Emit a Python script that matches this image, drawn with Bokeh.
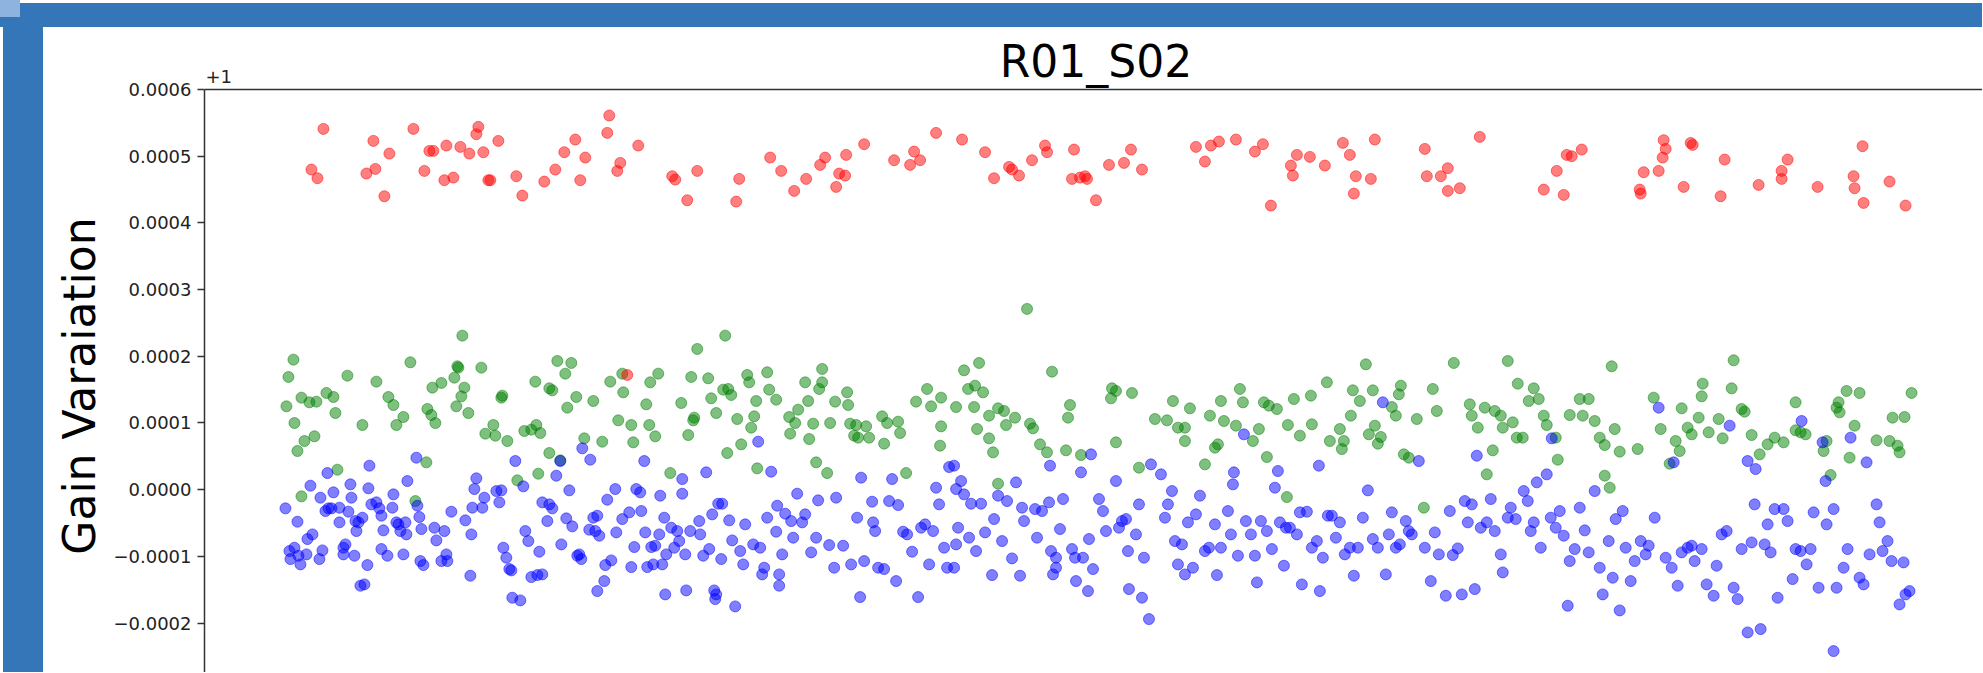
import math
from bokeh.plotting import figure
from bokeh.models import Range1d, FixedTicker, CustomJSTickFormatter, Label, Span, Div
from bokeh.layouts import column, row
from bokeh.embed import file_html
from bokeh.resources import INLINE

# ---------------- data (y in units of 1e-4, offset +1) ----------------
title_text = "R01_S02"
y_label_text = "Gain Varaiation"
offset_text = "+1"
y_ticks = [-2, -1, 0, 1, 2, 3, 4, 5, 6]

red = [
    (107,4.80),(113,4.67),(119,5.41),(162,4.74),(169,5.23),(171,4.81),(180,4.40),(185,5.04),(209,5.41),(220,4.78),
    (225,5.08),(229,5.08),(240,4.64),(242,5.16),(249,4.68),(256,5.14),(265,5.04),(272,5.33),(274,5.44),(279,5.06),
    (284,4.64),(286,4.64),(294,5.23),(312,4.70),(318,4.41),(340,4.62),(351,4.80),(360,5.06),(371,5.25),(376,4.64),
    (381,4.98),(403,5.35),(405,5.61),(413,4.78),(416,4.90),(434,5.16),(468,4.70),(471,4.65),(483,4.34),(493,4.78),
    (532,4.32),(535,4.66),(566,4.98),(577,4.78),(590,4.48),(602,4.66),(616,4.87),(621,4.98),(632,4.54),(635,4.74),
    (641,4.71),(642,5.02),(660,5.18),(690,4.94),(706,4.87),(710,5.07),(716,4.94),(732,5.35),(423,1.72),
    (758,5.25),(781,5.06),(790,4.67),(805,4.84),(808,4.80),(815,4.71),(828,4.94),(841,5.16),(843,5.06),(868,4.66),
    (870,5.10),(876,4.68),(881,4.70),(883,4.66),(892,4.34),(905,4.87),(920,4.90),(927,5.10),(938,4.80),(992,5.14),
    (1001,4.92),(1007,5.16),(1015,5.22),(1032,5.25),(1051,5.07),(1059,5.18),(1067,4.26),(1087,4.86),(1089,4.71),(1093,5.02),
    (1106,4.99),(1121,4.86),(1139,5.20),(1146,5.02),(1150,4.44),(1152,4.70),(1167,4.66),(1171,5.25),(1221,5.11),(1223,4.70),
    (1237,4.70),(1244,4.82),(1244,4.48),(1256,4.52),(1276,5.29),(1340,4.50),(1353,4.78),(1360,4.42),(1363,5.02),(1368,5.00),
    (1378,5.10),(1436,4.50),(1437,4.44),(1440,4.76),(1455,4.78),(1459,4.98),(1460,5.24),(1462,5.11),(1480,4.54),(1487,5.20),
    (1489,5.17),(1517,4.40),(1521,4.95),(1555,4.57),(1578,4.78),(1578,4.66),(1584,4.95),(1614,4.54),(1650,4.70),(1651,4.52),
    (1659,5.15),(1660,4.30),(1686,4.62),(1702,4.26),
]

green = [
    (89,1.95),(84,1.69),(82,1.25),(90,1.00),(93,0.58),(100,0.73),(110,0.80),(97,1.38),(105,1.31),(112,1.32),
    (122,1.45),(129,1.39),(131,1.15),(143,1.71),(158,0.97),(172,1.62),(184,1.39),(189,1.27),(192,0.97),(199,1.09),
    (206,1.91),(223,1.21),(227,1.12),(231,1.00),(228,1.53),(237,1.60),(250,1.68),(253,1.85),(254,1.83),(258,2.31),
    (260,1.53),(257,1.40),(252,1.25),(264,1.15),(277,1.83),(281,0.84),(289,0.97),(291,0.81),(297,1.38),(298,1.41),
    (303,0.73),(313,0.14),(320,0.88),(327,0.90),(331,1.62),(332,0.97),(336,0.85),(334,0.24),(345,1.52),(348,1.49),
    (345,0.55),(353,1.93),(356,0.44),(361,1.74),(367,1.90),(363,1.23),(372,1.39),(380,0.77),(389,1.33),(398,0.72),
    (406,1.62),(414,1.04),(418,1.74),(419,1.46),(427,0.97),(429,0.71),(442,1.28),(446,1.61),(445,0.97),(451,0.80),
    (454,1.74),(466,0.25),(477,1.30),(484,0.82),(487,1.69),(490,1.08),(489,1.04),(493,2.11),(504,1.67),(507,1.37),
    (512,1.15),(519,1.50),(521,2.31),(524,1.51),(527,1.42),(523,0.55),(533,1.06),(537,0.68),(543,1.72),(545,1.61),
    (547,0.93),(550,1.10),(552,1.33),(553,0.32),(563,1.76),(565,1.50),(572,1.35),(585,1.09),(586,0.84),(591,1.00),
    (594,1.20),(601,1.61),(604,1.33),(605,0.76),(609,0.99),(612,0.41),(615,1.51),(618,1.61),(618,1.81),(623,0.25),
    (626,1.00),(631,1.32),(643,1.46),(644,1.27),(646,0.99),(650,0.81),(652,0.97),(654,0.78),(662,0.95),(665,0.78),
    (678,1.10),(680,0.69),(683,1.00),(694,1.02),(696,0.85),(702,0.25),(712,1.32),(723,1.51),(727,1.25),(737,1.38),
    (737,0.95),(736,0.66),(97,-0.10),(211,-0.17),(222,0.41),(133,0.30),
    (823,2.71),(760,1.79),(775,1.90),(848,1.77),(764,1.51),(771,1.56),(779,1.46),(752,1.24),(770,1.24),(785,1.11),
    (794,1.22),(800,1.18),(811,1.08),(802,0.97),(826,0.99),(829,0.92),(773,0.91),(785,0.77),(789,0.56),(836,0.68),
    (843,0.56),(862,0.59),(866,1.27),(864,1.08),(877,0.52),(908,1.52),(912,1.48),(907,1.37),(928,1.45),(912,0.71),
    (935,0.33),(951,1.06),(963,1.04),(969,1.33),(974,0.93),(981,0.93),(981,0.73),(986,1.22),(1001,0.38),(1006,1.11),
    (1011,0.63),(1014,0.68),(1017,1.33),(1020,1.03),(1032,0.96),(1036,1.51),(1039,1.31),(1049,0.73),(1055,0.91),(1060,1.31),
    (1065,1.26),(1063,0.49),(1073,1.21),(1084,0.97),(1090,1.36),(1096,0.81),(1108,0.98),(1107,1.41),(1123,1.61),(1126,0.73),
    (1136,0.91),(1140,0.73),(1138,0.61),(1147,1.11),(1149,1.49),(1156,1.33),(1162,1.88),(1165,0.83),(1169,1.49),(1171,0.96),
    (1174,0.69),(1177,0.79),(1188,1.24),(1192,1.11),(1195,1.43),(1197,1.56),(1200,0.53),(1205,0.48),(1213,1.06),(1220,-0.27),
    (1229,1.51),(1233,1.18),(1250,1.90),(1266,1.28),(1268,1.11),(1274,0.93),(1281,1.23),(1283,0.23),(1289,0.59),(1291,1.18),
    (1297,1.11),(1299,0.93),(1304,1.93),(1309,1.01),(1313,0.78),(1314,1.59),(1319,0.78),(1325,1.33),(1330,1.52),(1335,1.36),
    (1340,1.11),(1343,0.97),(1352,0.78),(1354,0.45),(1366,1.12),(1376,1.36),(1379,1.11),(1385,1.36),(1391,1.03),(1396,0.78),
    (1401,0.21),(1401,0.67),(1408,1.85),(1406,0.03),(1411,0.91),(1416,0.57),(1434,0.61),(1450,1.38),(1457,0.91),(1466,0.39),
    (1472,0.73),(1476,0.58),(1478,1.22),(1484,0.93),(1488,0.83),(1495,1.08),(1499,1.59),(1498,1.40),(1505,0.86),(1515,1.06),
    (1519,0.77),(1528,1.52),(1530,1.94),(1538,1.21),(1541,1.17),(1548,0.82),(1556,0.53),(1564,0.68),(1571,0.78),(1580,0.71),
    (1592,1.31),(1592,0.89),(1597,0.86),(1602,0.83),(1620,0.58),(1623,0.73),(1627,0.22),(1633,1.23),(1636,1.16),(1635,1.31),
    (1643,1.48),(1646,0.48),(1651,0.96),(1656,1.45),(1673,0.74),(1686,0.73),(1689,1.08),(1694,0.66),(1696,0.56),(1701,1.09),
    (1708,1.45),(794,0.09),(1083,-0.11),
]

blue = [
    (81,-0.28),(93,-0.48),(85,-0.92),(86,-1.04),(90,-0.87),(96,-1.12),(94,-0.99),(102,-0.97),(103,-0.74),(108,-0.67),
    (115,-1.04),(118,-0.91),(106,0.06),(116,-0.12),(123,0.25),(121,-0.32),(124,-0.28),(127,-0.28),(129,-0.04),(135,-0.27),
    (135,-0.49),(139,-0.87),(139,-0.97),(141,-0.82),(146,0.08),(147,-0.12),(144,-0.33),(151,-0.47),(154,-0.49),(152,-0.62),
    (158,-0.42),(150,-0.99),(156,-1.44),(160,-1.42),(163,-1.13),(164,0.02),(165,0.36),(167,-0.22),(172,-0.19),(175,-0.28),
    (177,-0.39),(179,-0.61),(177,-0.89),(183,-0.99),(189,-0.07),(188,-0.27),(192,-0.49),(194,-0.52),(196,-0.62),(199,-0.97),
    (202,-0.67),(203,0.13),(201,-0.49),(212,0.48),(213,-0.24),(215,-0.41),(217,-0.59),(216,-1.07),(219,-1.13),(230,-0.57),
    (232,-0.76),(237,-1.07),(240,-0.62),(242,-0.97),(243,-1.07),(247,-0.33),(261,-0.46),(266,-1.29),(267,-0.67),(268,-0.27),
    (272,0.17),(270,0.01),(278,-0.27),(280,-0.12),(292,-0.02),(295,-0.19),(297,-0.01),(299,-0.87),(302,-1.02),(305,-1.19),
    (307,-1.21),(308,-1.62),(316,-1.66),(311,0.43),(319,0.05),(321,-0.62),(324,-0.77),(327,-1.31),(333,-1.28),(338,-1.27),
    (335,-0.93),(338,-0.19),(343,-0.47),(345,-0.22),(348,-0.28),(352,0.21),(356,0.43),(357,-0.82),(362,-0.43),(365,-0.01),
    (368,-0.55),(373,-0.99),(375,-0.97),(377,-1.04),(378,0.62),(386,0.45),(385,-0.60),(389,-0.42),(391,-0.62),(393,-0.39),
    (395,-0.69),(401,-1.13),(403,-0.15),(400,-1.37),(393,-1.52),(407,-1.06),(411,0.01),(412,-0.64),(418,-0.44),(425,-0.34),
    (427,-1.16),(430,-0.86),(432,0.01),(436,-0.04),(437,-0.32),(440,0.43),(441,-0.64),(443,-1.16),(447,-0.86),(449,-1.12),
    (451,-0.84),(455,-0.67),(456,-0.09),(458,-1.12),(460,-0.42),(461,-1.57),(462,-0.97),(467,-0.57),(470,-0.87),(473,-0.62),
    (475,-0.77),(478,-0.06),(478,0.16),(481,-0.97),(482,-1.51),(486,-0.62),(495,-0.47),(496,-0.67),(499,-0.99),(502,0.26),
    (505,-0.89),(508,-0.37),(510,-1.51),(512,-1.57),(514,-0.21),(518,-0.21),(511,-1.64),(517,-1.04),(525,-0.46),(528,-0.76),
    (531,-1.75),(536,-0.92),(539,-1.12),(541,-0.52),(549,-0.82),(554,0.72),(556,-0.87),(558,-1.27),(560,-1.17),(563,-0.42),
    (567,0.27),(573,-0.24),(572,-0.63),(575,-1.27),(575,-1.44),(578,-0.97),(581,-0.36),(587,-0.47),(589,-0.72),(593,-0.06),
    (598,-0.49),(601,-0.37),(607,-0.94),(612,-0.72),(614,-0.16),(625,-0.83),(630,-1.17),(632,-0.12),(639,-0.84),(647,-1.12),
    (653,-0.42),(656,-1.61),(657,0.18),(660,-1.07),(668,-0.18),(669,-0.49),(671,-0.62),(674,-1.17),(680,-1.19),(685,-0.17),
    (688,0.16),(692,-1.37),(694,-0.23),(699,-0.63),(703,-0.67),(708,-0.93),(714,-1.61),(717,-0.57),(721,-0.52),(725,-1.12),
    (729,-0.62),(732,0.03),(735,-0.22),(740,-0.87),(743,-1.17),(745,0.34),
    (750,0.36),(757,0.13),(752,0.01),(760,-0.07),(767,-0.21),(777,-0.21),(754,-0.57),(752,-0.82),(750,-1.17),(765,-0.72),
    (772,-0.92),(781,-0.64),(790,-0.44),(788,-1.28),(798,-0.77),(794,-0.09),(803,-0.17),(808,-1.03),(812,0.11),(816,-1.29),
    (818,-0.27),(820,-0.47),(831,-0.29),(833,-0.72),(838,-0.32),(845,-0.19),(846,0.36),(847,-0.92),(852,-1.02),(856,-0.59),
    (852,-1.17),(849,-1.27),(859,-0.14),(868,-0.89),(871,-1.02),(872,-1.37),(877,0.26),(879,-1.02),(884,-1.52),(885,-0.74),
    (887,0.53),(889,-1.19),(895,-0.14),(899,-0.32),(902,-0.62),(912,0.13),(915,-0.57),(918,-0.47),(922,-0.44),(924,-0.92),
    (925,-1.49),(932,-0.67),(935,-0.22),(938,-1.62),(940,-1.02),(945,-1.94),(947,0.38),(957,0.23),(961,-0.42),(964,-0.22),
    (968,-0.02),(971,-0.77),(974,-1.12),(978,-0.82),(981,-1.27),(984,-0.49),(989,-1.17),(992,-0.37),(996,-0.09),(1001,-0.92),
    (1005,-0.87),(1011,-0.52),(1013,-1.28),(1017,-0.87),(1024,-0.32),(1027,-0.67),(1030,0.26),(1029,0.08),(1034,-0.99),(1040,0.83),
    (1042,-0.47),(1047,-0.67),(1051,-0.99),(1053,-1.39),(1057,-0.47),(1063,-0.62),(1068,-0.89),(1071,0.03),(1074,0.28),(1076,-0.49),
    (1080,-1.14),(1082,-0.57),(1086,-0.57),(1093,-0.67),(1096,-0.34),(1098,-1.42),(1103,-0.33),(1108,-0.87),(1113,-0.77),(1115,0.36),
    (1116,-1.52),(1119,-1.02),(1124,-0.39),(1128,-0.39),(1132,-0.72),(1136,-0.49),(1141,-0.97),(1146,-0.87),(1150,-1.29),(1154,-0.87),
    (1159,-0.42),(1164,-0.01),(1169,-0.74),(1174,-0.87),(1179,1.31),(1182,-1.27),(1185,-0.67),(1188,-0.34),(1192,-0.87),(1196,-0.82),
    (1202,-0.47),(1205,-0.62),(1208,-0.67),(1215,0.43),(1221,-0.87),(1227,-1.37),(1231,-0.64),(1235,-0.97),(1242,-1.59),(1246,-0.32),
    (1249,-0.98),(1254,-0.88),(1258,-1.57),(1261,-0.17),(1264,-0.49),(1268,-0.22),(1271,-1.49),(1273,0.51),(1277,-0.57),(1283,-0.49),
    (1287,-0.14),(1291,-0.62),(1297,-0.97),(1299,-1.24),(1304,-0.42),(1307,-0.27),(1312,-0.44),(1320,-0.02),(1324,-0.17),(1327,-0.62),
    (1330,-0.49),(1333,0.11),(1337,-0.87),(1343,0.23),(1347,-0.42),(1348,0.77),(1352,-0.57),(1356,-0.32),(1360,-0.69),(1364,-1.74),
    (1366,-1.07),(1371,-0.89),(1376,-0.27),(1381,-0.61),(1385,-0.94),(1391,-0.02),(1396,-1.17),(1399,-1.57),(1405,-0.77),(1409,-1.32),
    (1412,-0.44),(1416,-1.81),(1419,-0.32),(1422,-0.87),(1427,-1.37),(1431,-1.07),(1437,-0.77),(1442,-0.97),(1445,-0.84),(1451,-0.42),
    (1455,1.23),(1462,-1.02),(1468,-1.17),(1470,0.41),(1474,-1.44),(1478,-0.94),(1484,-0.87),(1488,-0.84),(1491,-1.07),(1498,-0.89),
    (1503,-1.42),(1510,-1.59),(1513,-1.14),(1518,-0.67),(1523,-0.62),(1526,0.96),(1530,-1.47),(1534,-1.64),(1538,-0.89),(1544,0.43),
    (1544,-2.14),(1548,-0.79),(1551,-0.22),(1552,0.31),(1557,-2.09),(1561,-0.82),(1564,-0.52),(1567,-0.94),(1571,-0.29),(1574,-1.62),
    (1580,-0.29),(1584,-0.47),(1589,-1.34),(1592,-0.89),(1597,-0.92),(1598,1.03),(1603,-1.12),(1607,-0.89),(1610,-0.34),(1615,-1.47),
    (1619,0.71),(1622,0.13),(1623,-0.52),(1630,-0.29),(1630,-2.42),(1633,-1.47),(1640,-1.17),(1644,-0.89),(1647,0.78),(1656,-1.32),
    (1660,-1.42),(1663,0.41),(1666,-0.97),(1673,-0.22),(1676,-0.49),(1679,-0.92),(1684,-0.77),(1688,-1.07),(1696,-1.72),(1700,-1.09),
    (1702,-1.57),(1706,-1.52),
]

# ---------------- styling / layout ----------------
FONT = "DejaVu Sans"
BAR = "#3576B9"
BAR_LIGHT = "#8DB3DE"
Y_TOP = 6.93      # view extends above the 0.0006 spine to hold title and offset text
Y_BOTTOM = -2.741 # axes continue below the visible window

p = figure(width=1872, height=645, output_backend="svg", toolbar_location=None,
           x_range=Range1d(0, 1779), y_range=Range1d(Y_BOTTOM, Y_TOP),
           x_axis_location=None,
           min_border_left=93, min_border_right=0, min_border_top=0, min_border_bottom=0)
p.outline_line_color = None
p.grid.visible = False
p.background_fill_color = "white"
p.border_fill_color = "white"
p.title.visible = False

ya = p.yaxis[0]
ya.bounds = (Y_BOTTOM, y_ticks[-1])
ya.ticker = FixedTicker(ticks=y_ticks)
ya.formatter = CustomJSTickFormatter(code="const v = tick/10000; return (v < 0 ? '\u2212' : '') + Math.abs(v).toFixed(4);")
ya.major_label_text_font = FONT
ya.major_label_text_font_size = "18px"
ya.major_label_text_color = "#222222"
ya.major_tick_out = 7
ya.major_tick_in = 0
ya.minor_tick_line_color = None
ya.axis_line_color = "#333333"
ya.axis_line_width = 1.5
ya.major_tick_line_color = "#333333"
ya.major_tick_line_width = 1.3
ya.major_label_standoff = 6

# top spine of the axes box
p.add_layout(Span(location=y_ticks[-1], dimension="width", line_color="#333333", line_width=1.5))

def pts(lst):
    return [a for a, b in lst], [b for a, b in lst]

gx, gy = pts(green)
bx, by = pts(blue)
rx, ry = pts(red)
p.scatter(gx, gy, size=11, marker="circle", fill_color="green", line_color="green", fill_alpha=0.5, line_alpha=0.5)
p.scatter(bx, by, size=11, marker="circle", fill_color="blue", line_color="blue", fill_alpha=0.5, line_alpha=0.5)
p.scatter(rx, ry, size=11, marker="circle", fill_color="red", line_color="red", fill_alpha=0.5, line_alpha=0.5)

p.add_layout(Label(x=892, y=6.42, text=title_text, text_align="center", text_baseline="middle",
                   text_font=FONT, text_font_size="44px", text_color="black"))
p.add_layout(Label(x=1, y=6.19, text=offset_text, text_align="left", text_baseline="middle",
                   text_font=FONT, text_font_size="18px", text_color="#222222"))

ylabel_html = (
    '<div style="position:relative; width:500px; height:50px; line-height:50px; text-align:center; '
    'white-space:nowrap; font-family:\'DejaVu Sans\'; font-size:44px; color:black; '
    'transform-origin:0 0; transform:translate(12px, 609px) rotate(-90deg);">' + y_label_text + '</div>'
)

corner = Div(text="", width=20, height=27, margin=0,
             styles={"background": f"linear-gradient({BAR_LIGHT} 0px, {BAR_LIGHT} 17px, {BAR} 17px, {BAR} 27px)",
                     "border-bottom-right-radius": "0px"})
top_white = Div(text="", width=1962, height=3, margin=0, styles={"background-color": "white"})
top_bar = Div(text="", width=1962, height=24, margin=0, styles={"background-color": BAR})
left_white = Div(text="", width=3, height=645, margin=0, styles={"background-color": "white"})
left_bar = Div(text="", width=40, height=645, margin=0, styles={"background-color": BAR})
ylabel_div = Div(text=ylabel_html, width=67, height=645, margin=0,
                 styles={"background-color": "white", "overflow": "hidden"})
header = row(corner, column(top_white, top_bar, spacing=0), spacing=0)
layout = column(header, row(left_white, left_bar, ylabel_div, p, spacing=0), spacing=0)

open("out.html", "w", encoding="utf-8").write(file_html(layout, INLINE, title="R01_S02"))
